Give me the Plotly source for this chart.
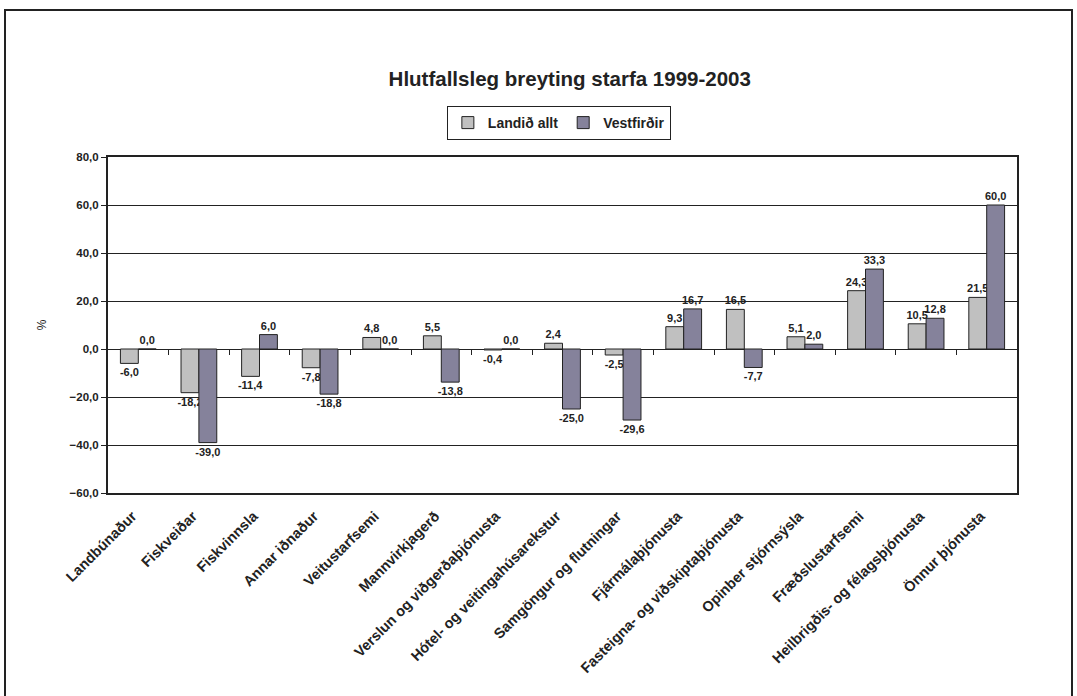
import plotly.graph_objects as go

categories = ["Landbúnaður", "Fiskveiðar", "Fiskvinnsla", "Annar iðnaður", "Veitustarfsemi",
              "Mannvirkjagerð", "Verslun og viðgerðaþjónusta", "Hótel- og veitingahúsarekstur",
              "Samgöngur og flutningar", "Fjármálaþjónusta", "Fasteigna- og viðskiptaþjónusta",
              "Opinber stjórnsýsla", "Fræðslustarfsemi", "Heilbrigðis- og félagsþjónusta",
              "Önnur þjónusta"]
landid = [-6.0, -18.2, -11.4, -7.8, 4.8, 5.5, -0.4, 2.4, -2.5, 9.3, 16.5, 5.1, 24.3, 10.5, 21.5]
vestfirdir = [0.0, -39.0, 6.0, -18.8, 0.0, -13.8, 0.0, -25.0, -29.6, 16.7, -7.7, 2.0, 33.3, 12.8, 60.0]
yticks = [-60, -40, -20, 0, 20, 40, 60, 80]

FONT = "Liberation Sans, Arial, sans-serif"
INK = "#222222"
W, H = 1077, 696
L, R, T, B = 108, 60, 157, 203
PW, PH = W - L - R, H - T - B

def fmt(v):
    return f"{v:.1f}".replace(".", ",")

fig = go.Figure()
fig.add_trace(go.Bar(
    x=categories, y=landid, name="Landið allt",
    marker=dict(color="#C0C0C0", line=dict(color=INK, width=1)),
    text=[fmt(v) for v in landid], textposition="outside", constraintext="none",
    textfont=dict(family=FONT, size=11, color=INK, weight="bold"),
    cliponaxis=False,
))
fig.add_trace(go.Bar(
    x=categories, y=vestfirdir, name="Vestfirðir",
    marker=dict(color="#85829B", line=dict(color=INK, width=1)),
    text=[fmt(v) for v in vestfirdir], textposition="outside", constraintext="none",
    textfont=dict(family=FONT, size=11, color=INK, weight="bold"),
    cliponaxis=False,
))

# helper trace on an overlay axis to draw category-boundary ticks on the zero line
fig.add_trace(go.Scatter(x=[-0.5, len(categories) - 0.5], y=[0, 0], xaxis="x2",
                         mode="lines", line=dict(width=0), showlegend=False, hoverinfo="skip"))

fig.update_layout(
    width=W, height=H,
    margin=dict(l=L, r=R, t=T, b=B),
    paper_bgcolor="white", plot_bgcolor="white",
    font=dict(family=FONT, size=11, color=INK),
    barmode="group", bargap=0.41, bargroupgap=0,
    separators=",.",
    title=dict(text="<b>Hlutfallsleg breyting starfa 1999-2003</b>",
               font=dict(family=FONT, size=20.5, color=INK),
               x=0.508, xref="paper", xanchor="center",
               y=1 - 79 / H, yanchor="middle"),
    legend=dict(orientation="h", x=0.496, xanchor="center", y=(493 - 123) / PH, yanchor="middle",
                bordercolor=INK, borderwidth=1, bgcolor="white",
                font=dict(family=FONT, size=14, color=INK, weight="bold"),
                itemwidth=30, tracegroupgap=0),
    showlegend=True,
    xaxis=dict(type="category", showgrid=False, showline=True, mirror=True,
               linecolor=INK, linewidth=2, ticks="", tickangle=-45,
               ticklabelstandoff=7, ticklabelshift=-6,
               tickfont=dict(family=FONT, size=14.5, color=INK, weight="bold"),
               zeroline=False),
    xaxis2=dict(overlaying="x", range=[-0.5, len(categories) - 0.5], anchor="free",
                position=(0 - (-60)) / 140, side="bottom", showline=False, showgrid=False,
                tickmode="array", tickvals=[i + 0.5 for i in range(len(categories) - 1)],
                ticks="outside", ticklen=5, tickcolor=INK, tickwidth=1,
                showticklabels=False, zeroline=False),
    yaxis=dict(range=[-60, 80], tickvals=yticks, tickformat=".1f",
               showgrid=True, gridcolor=INK, gridwidth=1,
               zeroline=True, zerolinecolor=INK, zerolinewidth=1,
               showline=True, mirror=True, linecolor=INK, linewidth=2,
               ticks="outside", ticklen=5, tickcolor=INK,
               tickfont=dict(family=FONT, size=11.5, color=INK, weight="bold"),
               title=dict(text="%", font=dict(family=FONT, size=12, color=INK), standoff=20)),
)

# outer chart-area frame
fig.add_shape(type="rect", xref="paper", yref="paper",
              x0=(5 - L) / PW, x1=(1072 - L) / PW,
              y0=(493 - 710) / PH, y1=(493 - 10) / PH,
              line=dict(color=INK, width=2), fillcolor="rgba(0,0,0,0)", layer="below")

fig.write_html("out.html", config={"displayModeBar": False},
               post_script="document.body.style.margin='0';document.body.style.overflow='hidden';")
